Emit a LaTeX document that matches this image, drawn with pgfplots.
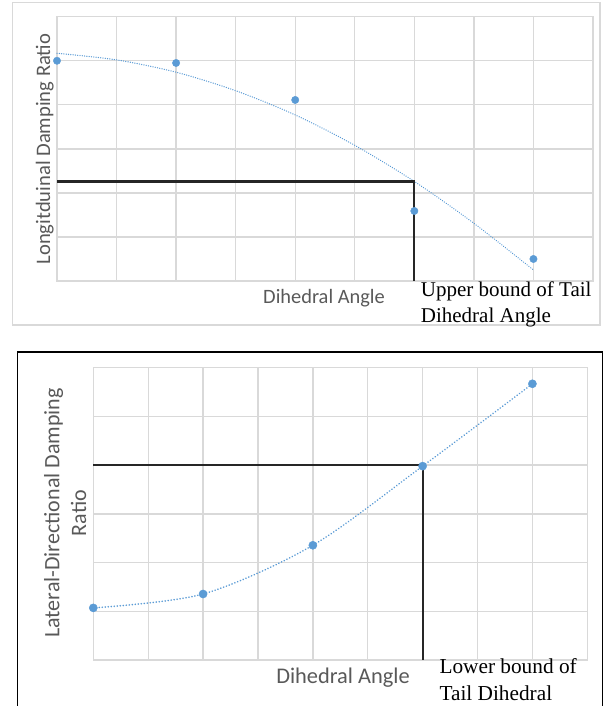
\documentclass[border=0pt]{standalone}
\usepackage{fontspec}
\setmainfont{Liberation Serif}
\newfontfamily\calibri{Carlito}
\usepackage{pgfplots}
\pgfplotsset{compat=1.18}
\definecolor{xlblue}{HTML}{5B9BD5}
\definecolor{xlgrid}{HTML}{D9D9D9}
\definecolor{xltext}{HTML}{595959}
\pgfplotsset{
  xlstyle/.style={
    scale only axis, xmin=0, xmax=9, ymin=0, ymax=6,
    xtick={0,...,9}, ytick={0,...,6}, xticklabels={}, yticklabels={},
    major tick length=0pt, grid=major,
    grid style={draw=xlgrid, line width=1.3pt},
    axis line style={draw=xlgrid, line width=1.3pt},
    clip=false, anchor=south west,
  }
}
\begin{document}
\begin{tikzpicture}
\path[use as bounding box] (0,0) rectangle (609pt,-706pt);
% ---------- top chart ----------
\draw[xlgrid, line width=1.1pt] (12.7pt,-2.7pt) rectangle (600pt,-325pt);
\begin{axis}[xlstyle, at={(57pt,-281pt)}, width=536pt, height=264.3pt]
\addplot[xlblue, line width=1.4pt, line cap=round, dash pattern=on 0.01pt off 2.3pt, smooth] coordinates {(0,5.17)(1,5.02)(2,4.74)(3,4.32)(4,3.77)(5,3.08)(6,2.26)(7,1.31)(8,0.25)};
\addplot[black!85, line width=2.2pt] coordinates {(0,2.26)(6,2.26)(6,0)};
\addplot[only marks, mark=*, mark size=3.7pt, xlblue] coordinates {(0,5.0)(2,4.95)(4,4.11)(6,1.59)(8,0.5)};
\end{axis}
\node[font=\calibri\fontsize{20.4}{24}\selectfont, text=xltext, anchor=base, inner sep=0pt] at (324pt,-303.3pt) {Dihedral Angle};
\node[font=\calibri\fontsize{20.6}{24}\selectfont, text=xltext, anchor=base, rotate=90, inner sep=0pt] at (50pt,-149pt) {Longitduinal Damping Ratio};
\node[font=\fontsize{21}{26}\selectfont, anchor=base west, inner sep=0pt] at (420.7pt,-296pt) {Upper bound of Tail};
\node[font=\fontsize{21}{26}\selectfont, anchor=base west, inner sep=0pt] at (420.7pt,-322.3pt) {Dihedral Angle};
% ---------- bottom chart ----------
\draw[black, line width=1.5pt] (17.5pt,-706pt) -- (17.5pt,-351.8pt) -- (602.3pt,-351.8pt) -- (602.3pt,-706pt);
\begin{axis}[xlstyle, at={(93.3pt,-660pt)}, width=494pt, height=292.3pt]
\addplot[xlblue, line width=1.8pt, line cap=round, dash pattern=on 0.01pt off 3pt, smooth] coordinates {(0,1.07)(2,1.355)(4,2.355)(6,3.98)(8,5.67)};
\addplot[black!85, line width=2.2pt] coordinates {(0,4.0)(6,4.0)(6,0)};
\addplot[only marks, mark=*, mark size=4.1pt, xlblue] coordinates {(0,1.07)(2,1.355)(4,2.355)(6,3.98)(8,5.67)};
\end{axis}
\node[font=\calibri\fontsize{22.4}{26}\selectfont, text=xltext, anchor=base, inner sep=0pt] at (343pt,-683.3pt) {Dihedral Angle};
\node[font=\calibri\fontsize{22}{26}\selectfont, text=xltext, anchor=base, rotate=90, inner sep=0pt] at (59.3pt,-513pt) {Lateral-Directional Damping};
\node[font=\calibri\fontsize{22}{26}\selectfont, text=xltext, anchor=base, rotate=90, inner sep=0pt] at (86pt,-513pt) {Ratio};
\node[font=\fontsize{21.3}{26}\selectfont, anchor=base west, inner sep=0pt] at (439.3pt,-673.3pt) {Lower bound of};
\node[font=\fontsize{21.3}{26}\selectfont, anchor=base west, inner sep=0pt] at (439.3pt,-700.7pt) {Tail Dihedral};
\end{tikzpicture}
\end{document}
